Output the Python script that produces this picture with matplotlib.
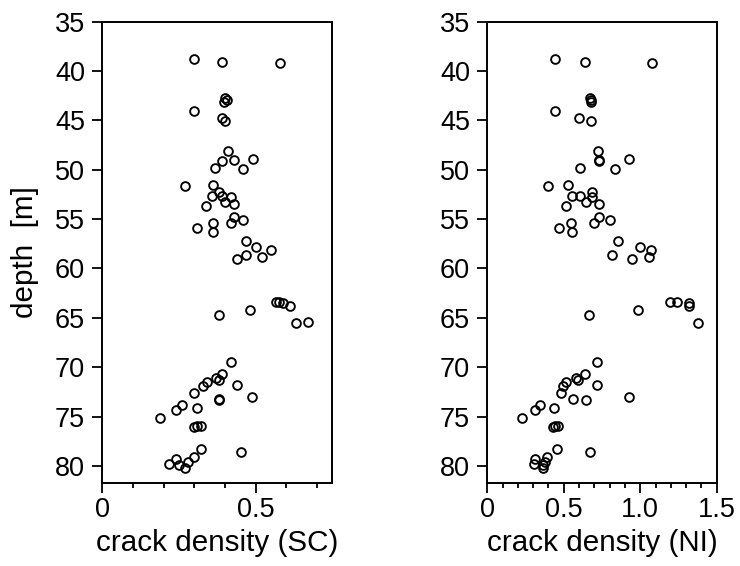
import numpy as np
import matplotlib
matplotlib.use('Agg')
import matplotlib.pyplot as plt

plt.rcParams['font.family'] = ['Liberation Sans', 'DejaVu Sans']

# depth of each sample [m]
depth = [38.83, 39.07, 39.17, 42.78, 42.90, 43.10, 44.04, 44.75, 45.08, 48.12,
         48.93, 49.03, 49.13, 49.81, 49.94, 51.64, 51.53, 52.25, 52.65, 52.70,
         52.80, 53.32, 53.46, 53.72, 54.81, 55.14, 55.35, 55.42, 55.92, 56.33,
         57.24, 57.82, 58.12, 58.66, 58.86, 59.03, 63.35, 63.42, 63.52, 63.79,
         64.20, 64.70, 65.41, 65.51, 69.50, 70.68, 71.09, 71.25, 71.48, 71.80,
         71.93, 72.58, 73.01, 73.20, 73.28, 73.78, 74.13, 74.29, 75.10, 75.95,
         75.98, 76.08, 78.24, 78.58, 79.09, 79.26, 79.63, 79.80, 79.93, 80.20]

# crack density, SC
sc = [0.300, 0.390, 0.580, 0.400, 0.406, 0.398, 0.300, 0.390, 0.400, 0.411,
      0.490, 0.429, 0.391, 0.369, 0.459, 0.270, 0.360, 0.380, 0.359, 0.390,
      0.421, 0.399, 0.429, 0.339, 0.429, 0.460, 0.421, 0.360, 0.309, 0.360,
      0.470, 0.500, 0.550, 0.470, 0.520, 0.439, 0.567, 0.575, 0.590, 0.611,
      0.481, 0.380, 0.670, 0.631, 0.421, 0.391, 0.371, 0.382, 0.340, 0.440,
      0.329, 0.300, 0.489, 0.380, 0.382, 0.261, 0.310, 0.240, 0.188, 0.310,
      0.322, 0.300, 0.321, 0.451, 0.300, 0.240, 0.280, 0.218, 0.249, 0.270]

# crack density, NI (nan = not shown in panel)
ni = [0.443, 0.637, 1.079, 0.672, 0.676, 0.676, 0.443, 0.598, 0.676, 0.726,
      0.927, 0.731, 0.731, 0.606, 0.837, 0.395, 0.526, 0.685, 0.554, 0.606,
      0.685, 0.646, 0.728, 0.515, 0.728, 0.805, 0.696, 0.547, 0.467, 0.554,
      0.857, 0.997, 1.069, 0.816, 1.056, 0.948, 1.197, 1.241, 1.321, 1.321,
      0.988, 0.665, np.nan, 1.380, 0.719, 0.637, 0.580, 0.591, 0.515, 0.719,
      0.493, 0.482, 0.925, 0.562, 0.647, 0.347, 0.434, 0.314, 0.225, 0.443,
      0.460, 0.428, 0.456, 0.674, 0.392, 0.314, 0.377, 0.303, 0.366, 0.366]

fig = plt.figure(figsize=(7.4, 5.66), dpi=100)
ax1 = fig.add_axes([0.1382, 0.1461, 0.3108, 0.8159])
ax2 = fig.add_axes([0.6585, 0.1461, 0.3100, 0.8159])

panels = [(ax1, sc, 0.75, [0, 0.5], ['0', '0.5'], 'crack density (SC)'),
          (ax2, ni, 1.5, [0, 0.5, 1.0, 1.5], ['0', '0.5', '1.0', '1.5'], 'crack density (NI)')]

for ax, vals, xmax, xt, xtl, xlab in panels:
    ax.plot(vals, depth, linestyle='none', marker='o', markersize=6.3,
            markerfacecolor='none', markeredgecolor='black', markeredgewidth=1.35)
    ax.set_xlim(0, xmax)
    ax.set_ylim(81.75, 35)
    ax.set_yticks(np.arange(35, 81, 5))
    ax.set_xticks(xt)
    ax.set_xticklabels(xtl)
    ax.set_xticks(np.arange(0.1, xmax - 0.01, 0.1), minor=True)
    ax.tick_params(axis='both', which='major', direction='out', length=7, width=1.3,
                   labelsize=19.5)
    ax.tick_params(axis='x', which='major', pad=3)
    ax.tick_params(axis='y', which='major', pad=5.5)
    ax.tick_params(axis='x', which='minor', direction='out', length=3.5, width=1.3)
    for s in ax.spines.values():
        s.set_linewidth(1.4)
    ax.set_xlabel(xlab, fontsize=21.3, labelpad=4)

ax1.set_ylabel('depth  [m]', fontsize=21.3, labelpad=11)

fig.savefig('out.png', dpi=100)
